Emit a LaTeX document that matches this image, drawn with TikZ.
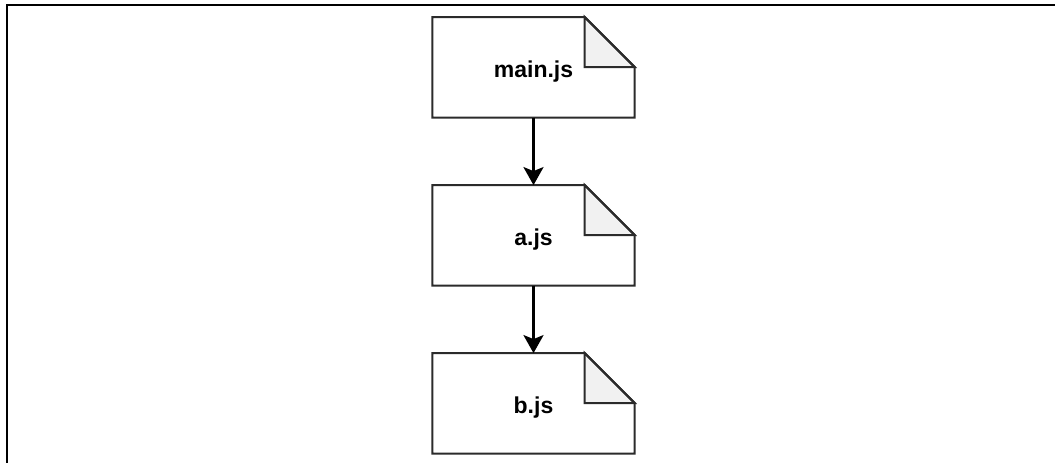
\documentclass[tikz,border=0pt]{standalone}
\usepackage{fontspec}
\setmainfont{Liberation Sans}
\usetikzlibrary{arrows.meta}
\definecolor{edgec}{HTML}{2B2B2B}
\definecolor{foldc}{HTML}{F1F1F1}
\tikzset{
  docbox/.style={minimum width=202pt, minimum height=100pt, inner sep=0pt, draw=none},
  doclabel/.style={font=\bfseries\fontsize{23}{27}\selectfont, inner sep=0pt},
  docline/.style={draw=edgec, line width=2pt, line join=miter},
  foldfill/.style={fill=foldc, draw=edgec, line width=2pt},
  conn/.style={draw=black, line width=2.6pt, -{Stealth[length=18pt,width=20pt,inset=4pt]}},
  frame/.style={draw=black, line width=2pt}
}
\newcommand{\mydoc}[3]{%
  \node[docbox] (#1) at (#2) {};
  \fill[white] (#1.south west) -- (#1.north west) -- ([xshift=-50pt]#1.north east) -- ([yshift=-50pt]#1.north east) -- (#1.south east) -- cycle;
  \filldraw[foldfill] ([xshift=-50pt]#1.north east) -- ([xshift=-50pt,yshift=-50pt]#1.north east) -- ([yshift=-50pt]#1.north east) -- cycle;
  \draw[docline] (#1.south west) -- (#1.north west) -- ([xshift=-50pt]#1.north east) -- ([yshift=-50pt]#1.north east) -- (#1.south east) -- cycle;
  \node[doclabel] (#1t) at ([yshift=-4pt]#1.center) {#3};
}
\begin{document}
\begin{tikzpicture}[x=1pt,y=-1pt]
\useasboundingbox (0,0) rectangle (1055,463);
\coordinate (fbl) at (6.5,470);
\coordinate (ftl) at (6.5,5);
\coordinate (ftr) at (1060,5);
\draw[frame] (fbl) -- (ftl) -- (ftr);
\mydoc{m}{533.5,67.3}{main.js}
\mydoc{a}{533.5,235.3}{a.js}
\mydoc{b}{533.5,403.3}{b.js}
\draw[conn] (m.south) -- (a.north);
\draw[conn] (a.south) -- (b.north);
\end{tikzpicture}
\end{document}
